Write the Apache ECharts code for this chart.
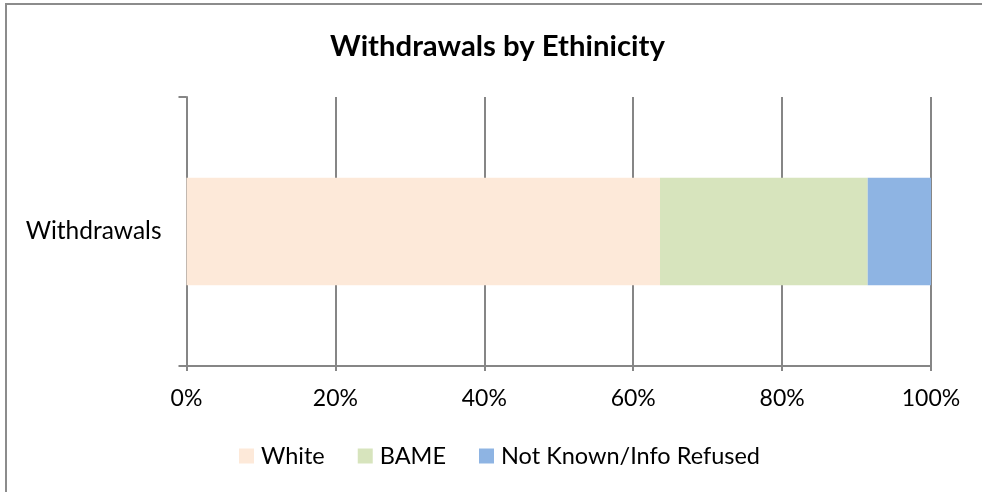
<!DOCTYPE html>
<html>
<head>
<meta charset="utf-8">
<script src="https://cdn.jsdelivr.net/npm/echarts@6/dist/echarts.min.js"></script>
<style>
  html, body { margin: 0; padding: 0; background: #fff; }
  #chart { width: 982px; height: 492px; }
</style>
</head>
<body>
<div id="chart"></div>
<script>
// Share of withdrawals by ethnicity (percent)
const categories = ['Withdrawals'];
const seriesNames = ['White', 'BAME', 'Not Known/Info Refused'];
const whiteValues = [63.6];
const bameValues = [27.9];
const notKnownValues = [8.5];
const xTicks = [0, 20, 40, 60, 80, 100];

const colors = ['#FDE9D9', '#D7E4BD', '#8EB4E3'];
const font = 'Lato, "Open Sans", sans-serif';
const axisGrey = '#868686';

const chart = echarts.init(document.getElementById('chart'), null, { renderer: 'canvas' });

const valuesBySeries = [whiteValues, bameValues, notKnownValues];

chart.setOption({
  animation: false,
  backgroundColor: '#ffffff',
  color: colors,
  graphic: [{
    type: 'rect',
    shape: { x: 6, y: 4, width: 1000, height: 1000 },
    style: { fill: 'none', stroke: '#8c8c8c', lineWidth: 2 },
    silent: true
  }],
  title: {
    text: 'Withdrawals by Ethinicity',
    left: 325,
    top: 27,
    textStyle: { fontFamily: font, fontWeight: 'bold', fontSize: 29.3, color: '#000' }
  },
  legend: {
    data: seriesNames,
    left: 234,
    top: 439,
    itemWidth: 15,
    itemHeight: 15,
    itemGap: 33,
    icon: 'rect',
    textStyle: { fontFamily: font, fontSize: 23.5, color: '#000', padding: [0, 0, 0, 2] }
  },
  grid: { left: 186.5, right: 51, top: 97, bottom: 126, containLabel: false },
  xAxis: {
    type: 'value',
    min: xTicks[0],
    max: xTicks[xTicks.length - 1],
    interval: 20,
    axisLine: { show: true, lineStyle: { color: axisGrey, width: 2 } },
    axisTick: { show: true, length: 5, lineStyle: { color: axisGrey, width: 2 } },
    axisLabel: {
      formatter: v => v + '%',
      fontFamily: font, fontSize: 23, color: '#000', margin: 21
    },
    splitLine: { show: true, lineStyle: { color: axisGrey, width: 2 } }
  },
  yAxis: {
    type: 'category',
    data: categories,
    axisLine: { show: true, lineStyle: { color: axisGrey, width: 2 } },
    axisTick: { show: true, length: 8, lineStyle: { color: axisGrey, width: 2 } },
    axisLabel: { fontFamily: font, fontSize: 24.5, color: '#000', margin: 25 }
  },
  series: seriesNames.map((name, i) => ({
    name,
    type: 'bar',
    stack: 'total',
    barWidth: '40%',
    data: valuesBySeries[i],
    itemStyle: { color: colors[i] }
  }))
});
</script>
</body>
</html>
